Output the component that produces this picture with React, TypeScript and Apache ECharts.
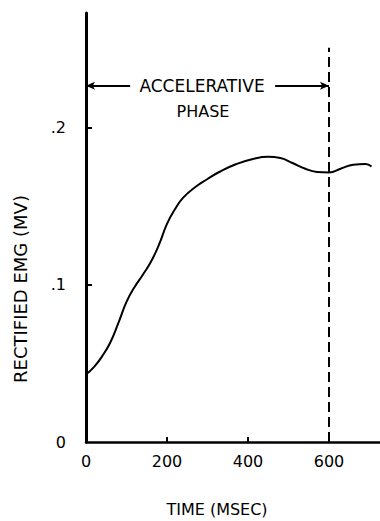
import React, { useEffect, useRef } from "react";
import * as echarts from "echarts";

const timeMs = [0, 20, 40, 60, 80, 100, 120, 140, 160, 180, 200, 220, 240, 270, 300, 330, 370, 410, 450, 480, 510, 540, 570, 600, 630, 660, 690, 705];
const emgMv = [0.043, 0.0478, 0.0547, 0.0634, 0.0758, 0.0892, 0.0987, 0.1064, 0.1146, 0.1255, 0.1389, 0.1484, 0.1556, 0.1624, 0.1675, 0.1721, 0.1769, 0.1801, 0.1816, 0.1808, 0.1777, 0.1742, 0.172, 0.1717, 0.1742, 0.1766, 0.1771, 0.1754];
const xTicks = [0, 200, 400, 600];
const yTicks = [0, 0.1, 0.2];
const phaseStart = 0;
const phaseEnd = 600;
const phaseArrowY = 0.2268;
const phaseLeftEnd = 109;
const phaseRightStart = 467;
const dashedTop = 0.251;

const FONT = "DejaVu Sans";

export default function App() {
  const ref = useRef<HTMLDivElement>(null);
  useEffect(() => {
    if (!ref.current) return;
    const chart = echarts.init(ref.current, null, { renderer: "svg" });
    const seriesData = timeMs.map((t, i) => [t, emgMv[i]]);
    chart.setOption({
      animation: false,
      backgroundColor: "#ffffff",
      grid: { left: 86, right: 0, top: 13, bottom: 79, containLabel: false },
      xAxis: {
        type: "value",
        min: 0,
        max: 726,
        splitLine: { show: false },
        axisLine: { show: true, onZero: false, lineStyle: { color: "#000", width: 2.5 } },
        axisTick: { show: true, inside: true, length: 5, lineStyle: { color: "#000", width: 2 }, customValues: xTicks.slice(1) },
        axisLabel: {
          customValues: xTicks,
          color: "#000",
          fontFamily: FONT,
          fontSize: 16,
          margin: 11,
          formatter: (v: number) => String(v),
        },
      },
      yAxis: {
        type: "value",
        min: 0,
        max: 0.2732,
        splitLine: { show: false },
        axisLine: { show: true, onZero: false, lineStyle: { color: "#000", width: 3 } },
        axisTick: { show: true, inside: true, length: 6, lineStyle: { color: "#000", width: 2 }, customValues: yTicks.slice(1) },
        axisLabel: {
          customValues: yTicks,
          color: "#000",
          fontFamily: FONT,
          fontSize: 16,
          margin: 20,
          formatter: (v: number) => (v === 0 ? "0" : "." + Math.round(v * 10)),
        },
      },
      graphic: [
        {
          type: "text",
          x: 202,
          y: 86,
          style: { text: "ACCELERATIVE", fill: "#000", font: `17px "${FONT}"`, textAlign: "center", textVerticalAlign: "middle" },
        },
        {
          type: "text",
          x: 203,
          y: 111,
          style: { text: "PHASE", fill: "#000", font: `16px "${FONT}"`, textAlign: "center", textVerticalAlign: "middle" },
        },
        {
          type: "text",
          x: 217,
          y: 509,
          style: { text: "TIME (MSEC)", fill: "#000", font: `16px "${FONT}"`, textAlign: "center", textVerticalAlign: "middle" },
        },
        {
          type: "text",
          x: 20,
          y: 289,
          rotation: Math.PI / 2,
          style: { text: "RECTIFIED EMG (MV)", fill: "#000", font: `18px "${FONT}"`, textAlign: "center", textVerticalAlign: "middle" },
        },
      ],
      series: [
        {
          type: "line",
          data: seriesData,
          smooth: 0.5,
          showSymbol: false,
          lineStyle: { color: "#000", width: 2 },
          markLine: {
            silent: true,
            animation: false,
            label: { show: false },
            data: [
              [
                { coord: [phaseEnd, 0], symbol: "none", lineStyle: { color: "#000", width: 2, type: [10, 5] } },
                { coord: [phaseEnd, dashedTop], symbol: "none" },
              ],
              [
                { coord: [phaseLeftEnd, phaseArrowY], symbol: "none", lineStyle: { color: "#000", width: 2, type: "solid" } },
                { coord: [phaseStart, phaseArrowY], symbol: "arrow", symbolSize: [6, 9] },
              ],
              [
                { coord: [phaseRightStart, phaseArrowY], symbol: "none", lineStyle: { color: "#000", width: 2, type: "solid" } },
                { coord: [phaseEnd, phaseArrowY], symbol: "arrow", symbolSize: [6, 9] },
              ],
            ],
          },
        },
      ],
    });
    return () => chart.dispose();
  }, []);
  return <div ref={ref} style={{ position: "fixed", left: 0, top: 0, width: 380, height: 521, background: "#fff" }} />;
}
